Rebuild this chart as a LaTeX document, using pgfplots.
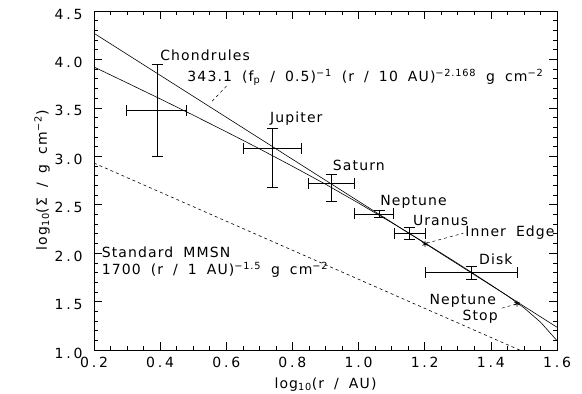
\documentclass[border=0pt]{standalone}
\usepackage{fontspec}
\setmainfont[LetterSpace=8, WordSpace=1.8]{DejaVu Sans}
\newfontfamily\tickfont[LetterSpace=20]{DejaVu Sans}
\usepackage{pgfplots}
\pgfplotsset{compat=1.18}
\begin{document}
\begin{tikzpicture}[font=\fontsize{14pt}{16pt}\selectfont]
\path[use as bounding box] (-94pt,-44pt) rectangle (488pt,350pt);
\begin{axis}[
  scale only axis, width=463pt, height=339pt,
  xmin=0.2, xmax=1.6, ymin=1.0, ymax=4.5,
  xtick={0.2,0.4,...,1.6}, ytick={1.0,1.5,...,4.5},
  minor x tick num=3, minor y tick num=4,
  tick align=inside, major tick length=8pt, minor tick length=4pt,
  /pgf/number format/assume math mode=true,
  /pgf/number format/fixed, /pgf/number format/fixed zerofill, /pgf/number format/precision=1,
  tick label style={font=\tickfont\fontsize{14pt}{16pt}\selectfont},
  yticklabel style={xshift=-8pt, yshift=-3pt},
  xticklabel style={yshift=-4pt},
  xlabel={log\textsubscript{10}(r / AU)},
  ylabel={log\textsubscript{10}(Σ / g cm\textsuperscript{−2})},
  xlabel style={yshift=-3pt},
  ylabel style={yshift=-2pt},
  axis line style={line width=0.6pt},
  every tick/.style={black, line width=0.6pt},
  clip=true,
]
% power-law fit
\addplot[black, line width=0.6pt] coordinates {(0.2,4.270) (1.6,1.235)};
% disk model curve
\addplot[black, line width=0.6pt] coordinates {
  (0.2,3.922) (0.3,3.758) (0.4,3.593) (0.5,3.425) (0.6,3.253) (0.7,3.078)
  (0.8,2.897) (0.9,2.712) (1.0,2.517) (1.1,2.315) (1.2,2.107) (1.3,1.893)
  (1.4,1.673) (1.45,1.560) (1.5,1.436) (1.55,1.288) (1.6,1.097)};
% standard MMSN
\addplot[black, dashed, line width=0.6pt] coordinates {(0.2,2.930) (1.6,0.830)};
% data with error bars
\addplot[draw=none, mark=none,
  error bars/.cd, x dir=both, x explicit, y dir=both, y explicit,
  error mark=-,
  error mark options={rotate=90, mark size=5.5pt, line width=0.6pt, black},
  error bar style={line width=0.6pt, black}]
  coordinates {
  (0.391,3.471) += (0.087,0.479) -= (0.092,0.475)
  (0.739,3.083) += (0.089,0.206) -= (0.089,0.407)
  (0.917,2.722) += (0.070,0.093) -= (0.070,0.190)
  (1.063,2.405) += (0.043,0.034) -= (0.077,0.034)
  (1.153,2.206) += (0.050,0.062) -= (0.045,0.062)
  (1.340,1.799) += (0.140,0.068) -= (0.137,0.068)
  };
% stars
\addplot[black, only marks, mark=asterisk, mark size=3pt, line width=0.7pt]
  coordinates {(1.201,2.095) (1.479,1.480)};
% pointers
\addplot[black, dashed, line width=0.5pt] coordinates {(0.601,3.726) (0.551,3.547)};
\addplot[black, dashed, line width=0.5pt] coordinates {(1.206,2.103) (1.317,2.206)};
\addplot[black, dashed, line width=0.5pt] coordinates {(1.433,1.432) (1.478,1.476)};
% labels
\node[anchor=west, inner sep=0pt] at (axis cs:0.400,4.039) {Chondrules};
\node[anchor=west, inner sep=0pt] at (axis cs:0.482,3.816) {343.1 (f\textsubscript{p} / 0.5)\textsuperscript{−1} (r / 10 AU)\textsuperscript{−2.168} g cm\textsuperscript{−2}};
\node[anchor=west, inner sep=0pt] at (axis cs:0.732,3.393) {Jupiter};
\node[anchor=west, inner sep=0pt] at (axis cs:0.922,2.911) {Saturn};
\node[anchor=west, inner sep=0pt] at (axis cs:1.065,2.532) {Neptune};
\node[anchor=west, inner sep=0pt] at (axis cs:1.164,2.333) {Uranus};
\node[anchor=west, inner sep=0pt] at (axis cs:1.322,2.216) {Inner Edge};
\node[anchor=west, inner sep=0pt] at (axis cs:1.364,1.938) {Disk};
\node[anchor=west, inner sep=0pt] at (axis cs:1.214,1.507) {Neptune};
\node[anchor=west, inner sep=0pt] at (axis cs:1.314,1.339) {Stop};
\node[anchor=west, inner sep=0pt] at (axis cs:0.223,2.010) {Standard MMSN};
\node[anchor=west, inner sep=0pt] at (axis cs:0.223,1.827) {1700 (r / 1 AU)\textsuperscript{−1.5} g cm\textsuperscript{−2}};
\end{axis}
\end{tikzpicture}
\end{document}
